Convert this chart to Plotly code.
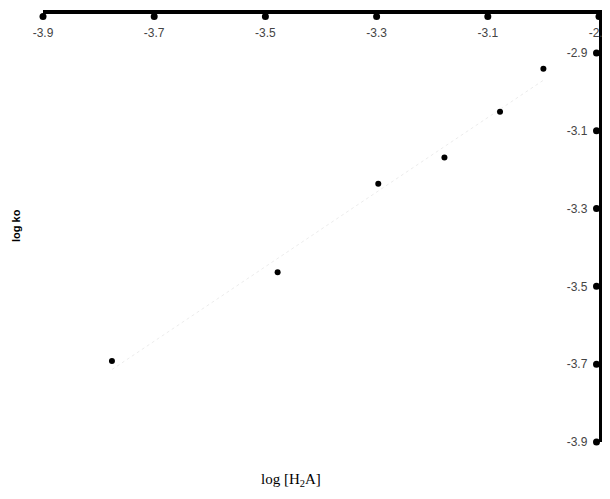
import numpy as np
import plotly.graph_objects as go

# Data
log_h2a = [-3.776, -3.478, -3.297, -3.178, -3.078, -3.000]
log_ko = [-3.692, -3.464, -3.236, -3.169, -3.051, -2.941]

x_ticks = [-3.9, -3.7, -3.5, -3.3, -3.1, -2.9]
x_tick_labels = ["-3.9", "-3.7", "-3.5", "-3.3", "-3.1", "-2.9"]
y_ticks = [-3.9, -3.7, -3.5, -3.3, -3.1, -2.9]
y_tick_labels = ["-3.9", "-3.7", "-3.5", "-3.3", "-3.1", "-2.9"]
x_range = [-3.9, -2.9]
y_range = [-3.9, -2.8]

slope, intercept = np.polyfit(log_h2a, log_ko, 1)
fit_x = [min(log_h2a), max(log_h2a)]
fit_y = [slope * v + intercept for v in fit_x]

# page body has an 8px margin: compensate
OFF = 8
W, H = 610 - 2 * OFF, 499 - 2 * OFF
L, R, T, B = 43 - OFF, W - (599 - OFF), 14 - OFF, H - (442 - OFF)

fig = go.Figure()
fig.add_trace(go.Scatter(
    x=fit_x, y=fit_y, mode="lines",
    line=dict(color="rgba(0,0,0,0.08)", width=1, dash="dot"),
    hoverinfo="skip", showlegend=False,
))
fig.add_trace(go.Scatter(
    x=log_h2a, y=log_ko, mode="markers",
    marker=dict(symbol="circle", size=6, color="black"),
    showlegend=False,
))


def frac(v, rng):
    return (v - rng[0]) / (rng[1] - rng[0])


# tick "bumps" on the inner side of the axis lines (paper refs so they are not clipped)
for t in x_ticks:
    fig.add_shape(type="circle", xref="paper", yref="paper",
                  xsizemode="pixel", ysizemode="pixel",
                  xanchor=frac(t, x_range), yanchor=1,
                  x0=-3.5, x1=3.5, y0=-6, y1=1,
                  fillcolor="black", line=dict(width=0), layer="above")
for t in y_ticks:
    fig.add_shape(type="circle", xref="paper", yref="paper",
                  xsizemode="pixel", ysizemode="pixel",
                  xanchor=1, yanchor=frac(t, y_range),
                  x0=-6, x1=1, y0=-3.5, y1=3.5,
                  fillcolor="black", line=dict(width=0), layer="above")

fig.update_layout(
    width=W, height=H,
    margin=dict(l=L, r=R, t=T, b=B, autoexpand=False),
    paper_bgcolor="white", plot_bgcolor="white",
    font=dict(family="Liberation Sans, Arial, sans-serif", size=12, color="black"),
    xaxis=dict(
        side="top", range=x_range, tickvals=x_ticks, ticktext=x_tick_labels,
        showline=True, linecolor="black", linewidth=4, ticks="",
        ticklabelposition="inside", ticklabelstandoff=14, ticklabeloverflow="allow",
        showgrid=False, zeroline=False,
        tickfont=dict(size=12),
    ),
    yaxis=dict(
        side="right", range=y_range, tickvals=y_ticks, ticktext=y_tick_labels,
        showline=True, linecolor="black", linewidth=4, ticks="",
        ticklabelposition="inside", ticklabelstandoff=11, ticklabeloverflow="allow",
        showgrid=False, zeroline=False,
        tickfont=dict(size=12),
    ),
)

pw = W - L - R
ph = H - T - B


def to_paper(px, py):
    return ((px - OFF) - L) / pw, 1 - ((py - OFF) - T) / ph


ax, ay = to_paper(16, 225)
bx, by = to_paper(291, 480)
fig.add_annotation(text="<b>log ko</b>", x=ax, y=ay, xref="paper", yref="paper",
                   xanchor="center", yanchor="middle",
                   showarrow=False, textangle=-90,
                   font=dict(size=11, family="Liberation Sans, Arial, sans-serif"))
fig.add_annotation(text="log [H<sub>2</sub>A]", x=bx, y=by, xref="paper", yref="paper",
                   xanchor="center", yanchor="middle",
                   showarrow=False,
                   font=dict(size=15, family="Liberation Serif, Times New Roman, serif"))

fig.write_html("out.html")
